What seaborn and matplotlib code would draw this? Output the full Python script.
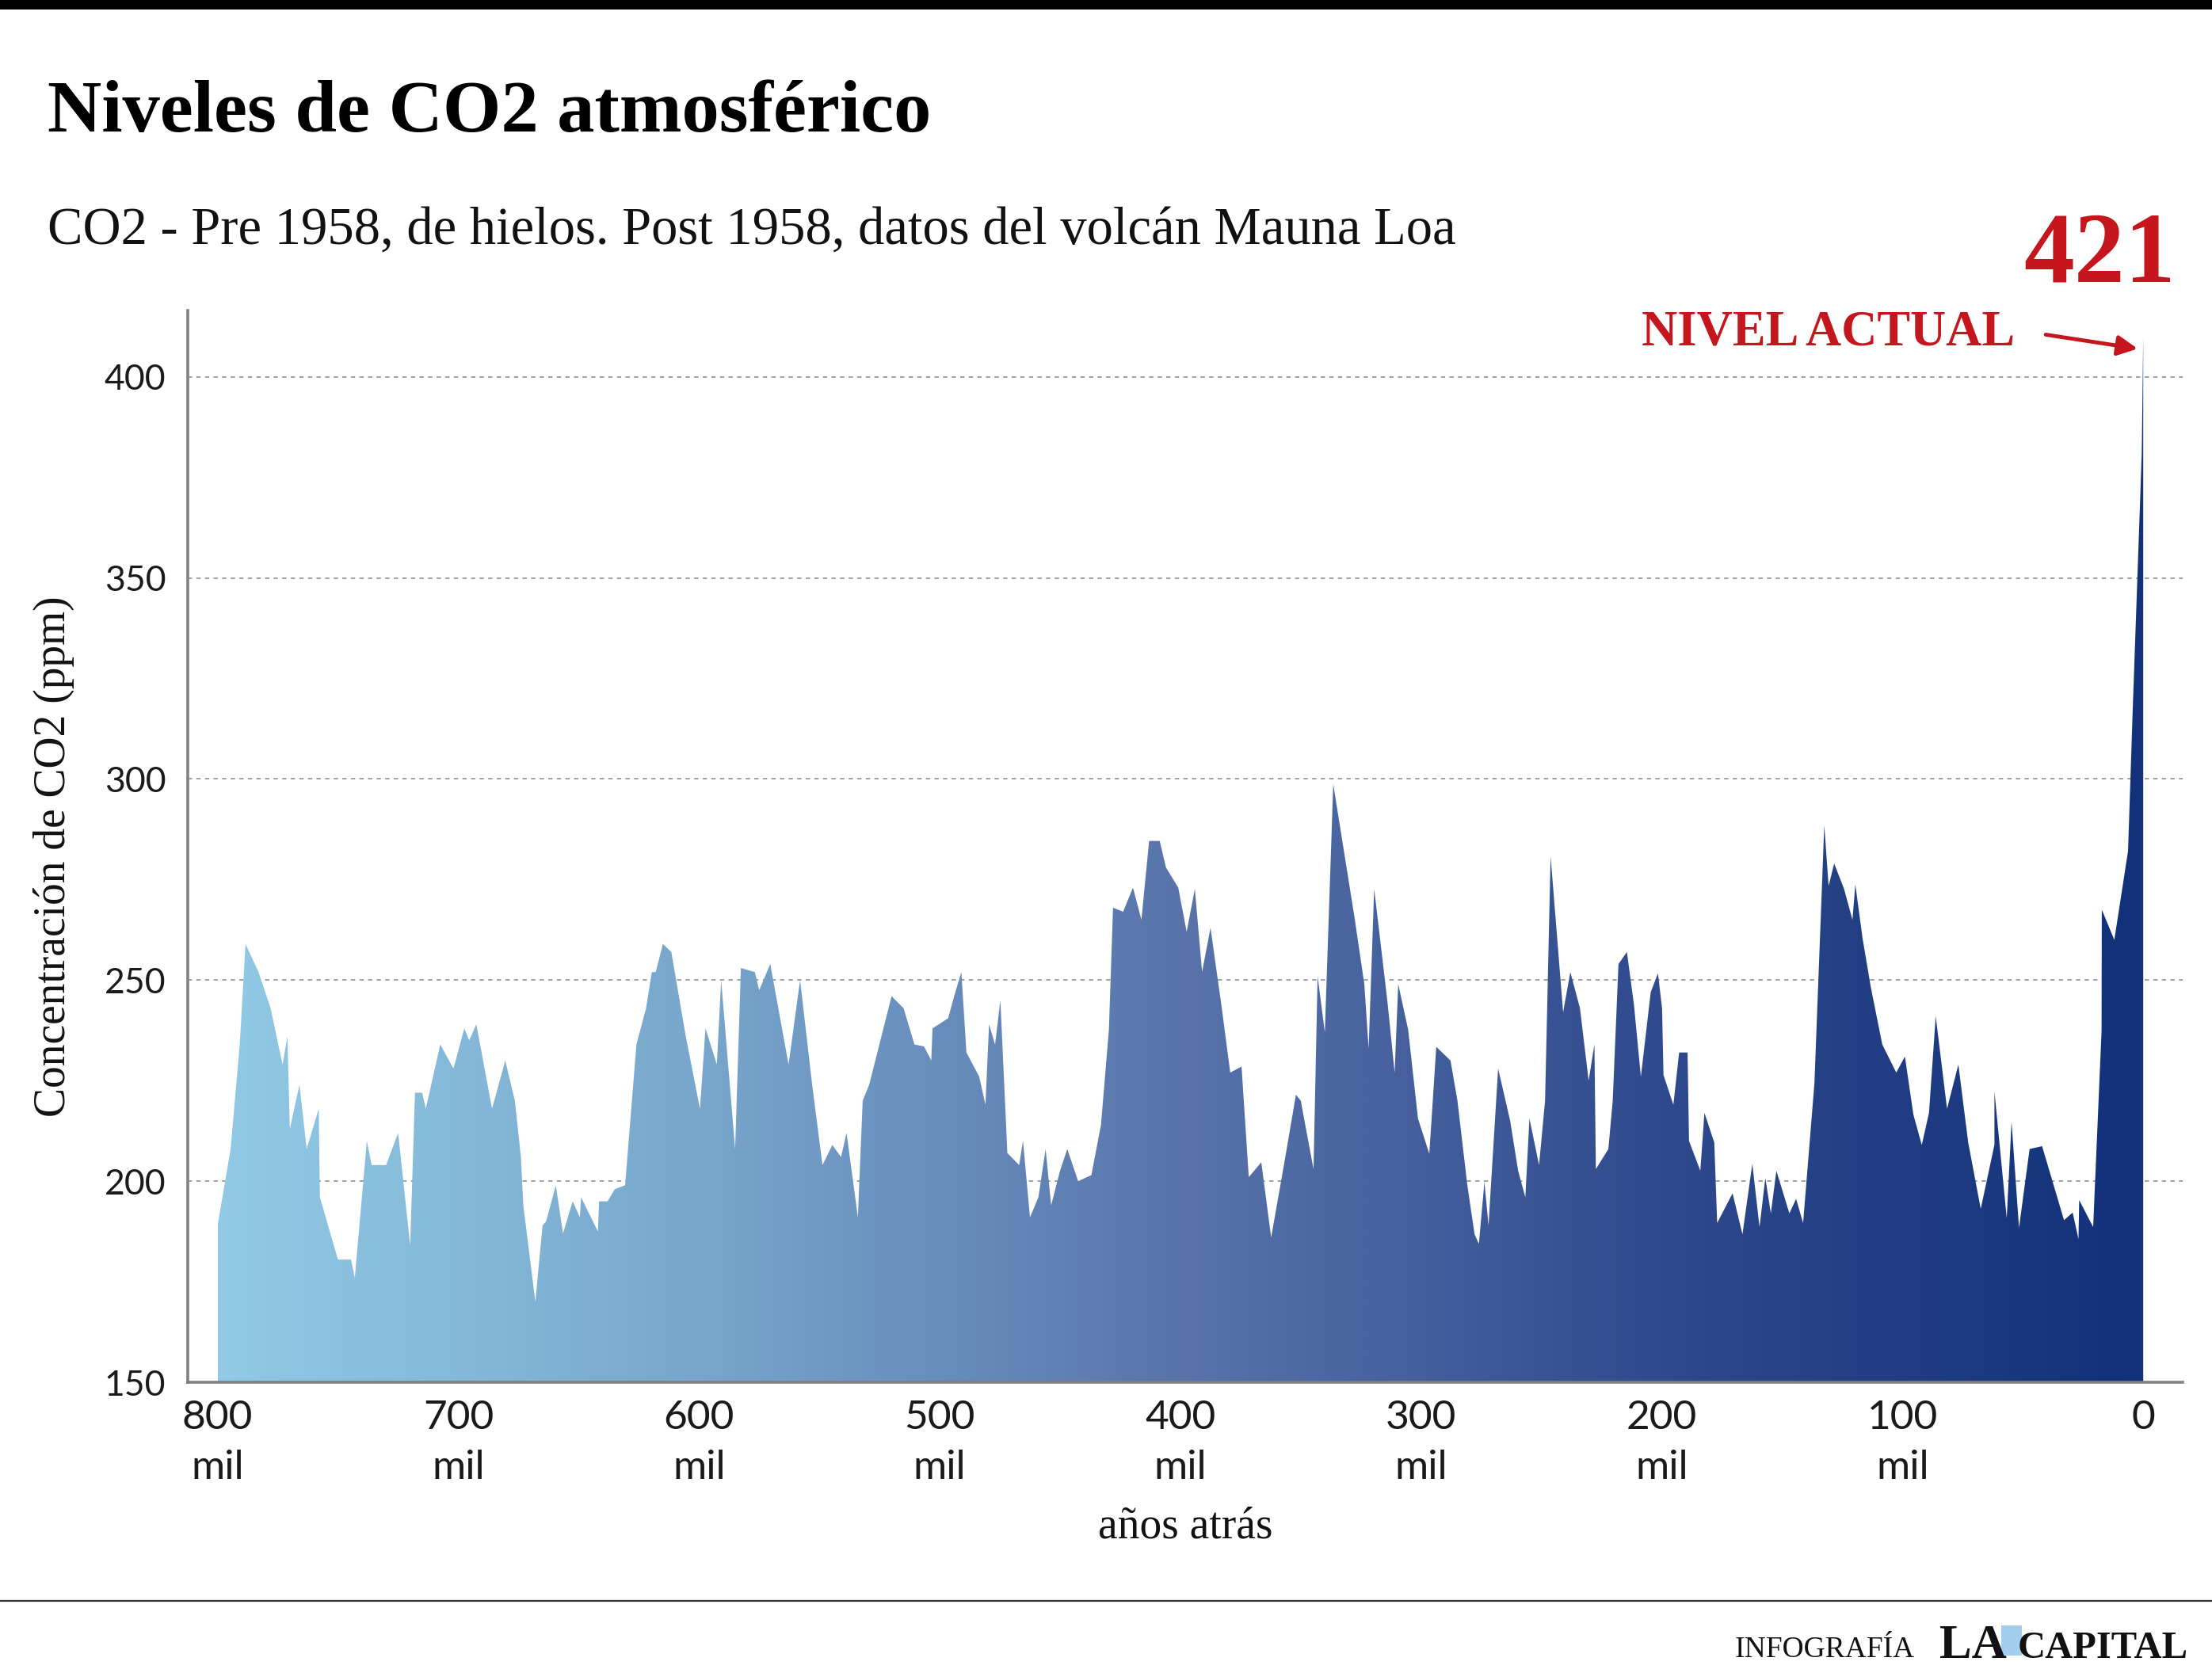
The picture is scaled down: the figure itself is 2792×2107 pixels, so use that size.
import numpy as np
import pandas as pd
import matplotlib
matplotlib.use("Agg")
import matplotlib.pyplot as plt
import seaborn as sns
from matplotlib.colors import LinearSegmentedColormap
from matplotlib.patches import Rectangle
from matplotlib.lines import Line2D

# ---------------- data ----------------
years_kyr = [
    800, 794.6, 790.8, 788.4, 783, 778, 773, 771, 770, 766, 763, 758, 757.5, 750, 744.6, 743,
    738, 736, 730, 725, 720, 718, 715, 713.5, 707.5, 702, 697.5, 695.5, 692.5, 686, 680.5,
    676.5, 674, 673, 668, 665, 663.5, 659.5, 656.5, 652.5, 649.5, 649, 642, 641.5, 638, 635,
    630.7, 626, 622, 619.6, 618, 615, 611.5, 605.5, 599.6, 597.3, 592.6, 590.8, 585, 582.6,
    576.8, 575, 570.4, 562.8, 558, 553, 548.7, 544.6, 541, 538.7, 534, 532, 529.3, 520, 515,
    510.5, 506.5, 503.5, 503, 496.5, 494, 491, 488.9, 483.6, 481, 479.5, 477, 474.8, 471.9,
    467, 465.4, 462.5, 459, 456, 453.7, 450, 447, 442.5, 437, 433, 429.7, 428, 423.8, 419.7,
    416.2, 413, 408.6, 406, 400.9, 397.4, 394, 391, 387.5, 382.8, 379.3, 374.6, 371.6, 366.4,
    362.3, 357, 352, 350, 344.7, 343, 340, 336.5, 327.7, 323.6, 321.8, 319.5, 314, 311, 309.5,
    305.4, 301.3, 296.6, 293.7, 287.8, 284.9, 280.8, 277.8, 276, 273.7, 272, 268, 263, 259.7,
    256.7, 255, 251, 248.5, 246.2, 241, 238, 234, 230.4, 228, 227.4, 222.2, 220.4, 218, 214.5,
    211.6, 208.7, 204.6, 201.6, 199.9, 199.3, 195.2, 192.8, 189.3, 188.7, 184, 182.3, 178.2,
    177, 170.6, 166.5, 162.4, 159.4, 157, 154.7, 152.4, 147, 144.2, 141.3, 136.6, 132.5, 130.7,
    128.4, 124.3, 120.8, 119.6, 116.6, 113.1, 108.4, 102.6, 99, 95.5, 92, 89, 86.2, 81.5, 76.8,
    72.7, 67.5, 61.8, 61.8, 56.7, 54.7, 51.6, 47.2, 42, 32.9, 29.3, 26.9, 26.6, 20.8, 17.3,
    17.2, 12, 6.3, 4.4, 0.6, 0,
]
co2_ppm = [
    189, 208, 234, 259, 252, 243, 229, 236, 213, 224, 208, 218, 196, 180.5, 180.5, 176,
    210, 204, 204, 212, 184, 222, 222, 218, 234, 228, 238, 235, 239, 218, 230,
    220, 206, 194, 170, 189, 190, 199, 187, 195, 191, 196, 187.5, 195, 195, 198,
    199, 234, 243, 252, 252, 259, 257, 236, 218, 238, 229, 250, 208, 253,
    252, 247.5, 254, 229, 250, 224, 204, 209, 206, 212, 191, 220, 224, 246, 243,
    234, 233.5, 230, 238, 240.5, 246, 252, 232, 226, 219, 239, 234, 245, 207,
    204, 210, 191, 196, 208, 194, 202.6, 208, 200, 201.5, 214, 237.7, 268, 267, 273,
    265, 284.6, 284.6, 278, 273, 262, 272.7, 252, 263, 243, 227, 228.5, 201, 204.7,
    186, 204, 221.5, 220, 203, 251, 237, 298.7, 265.7, 249, 233, 272.7, 244.7, 227, 249,
    237.7, 215.6, 206.8, 233.4, 230, 220, 199, 186.8, 184.4, 199.8, 189, 228, 215, 202.6,
    196, 215.6, 204, 220, 280.8, 242, 252, 243, 225, 234, 203, 208, 220, 254, 257,
    244, 226, 247, 251.7, 243, 226.4, 219, 232, 232, 210, 202.6, 217, 209.6,
    189.6, 197, 186.8, 204.3, 188.6, 200.8, 192, 202.6, 192, 195.6, 189.6, 224.3, 288.5, 273.4,
    279, 272.7, 265, 273.8, 260.4, 248, 234, 227, 231, 216.6, 209, 217, 241, 218, 229,
    209.6, 193.1, 209.1, 222.3, 190.8, 214.8, 188.4, 208, 208.7, 190.3, 192.2, 185.6, 195.3, 188.6, 237.4,
    267.5, 260, 282.1, 316.5, 381, 410,
]
x_ticks = [800, 700, 600, 500, 400, 300, 200, 100, 0]
x_tick_labels = ["800\nmil", "700\nmil", "600\nmil", "500\nmil", "400\nmil",
                 "300\nmil", "200\nmil", "100\nmil", "0\n"]
y_ticks = [150, 200, 250, 300, 350, 400]
grid_levels = [200, 250, 300, 350, 400]

title = "Niveles de CO2 atmosférico"
subtitle = "CO2 - Pre 1958, de hielos. Post 1958, datos del volcán Mauna Loa"
current_value = "421"
current_label = "NIVEL ACTUAL"
y_label = "Concentración de CO2 (ppm)"
x_label = "años atrás"

# ---------------- styling ----------------
sns.set_theme(style="white")
plt.rcParams['font.family'] = ['Liberation Serif', 'DejaVu Serif']

W, H = 2792, 2107
fig = plt.figure(figsize=(W / 100, H / 100), dpi=100)
fig.patch.set_facecolor("white")

def fx(px):
    return px / W

def fy(py):
    return 1 - py / H

ax = fig.add_axes([fx(237), fy(1745), fx(2755) - fx(237), fy(392) - fy(1745)])
ax.set_facecolor("white")

df = pd.DataFrame({"years": years_kyr, "co2": co2_ppm})
sns.lineplot(data=df, x="years", y="co2", ax=ax, linewidth=0, sort=False,
             estimator=None, color="#12317a")

# gradient area
poly = ax.fill_between(df["years"], 150, df["co2"], facecolor="none",
                       edgecolor="none", linewidth=0)
cmap = LinearSegmentedColormap.from_list(
    "co2grad",
    [(0.0, "#91cae5"), (0.25, "#78a6cc"), (0.5, "#5874ab"),
     (0.75, "#2f4a8d"), (1.0, "#12317a")])
grad = np.linspace(0, 1, 600).reshape(1, -1)
im = ax.imshow(grad, cmap=cmap, aspect="auto", extent=[800, 0, 150, 420],
               zorder=2, interpolation="bilinear")
im.set_clip_path(poly.get_paths()[0], transform=ax.transData)

ax.set_xlim(812.4, -16.4)
ax.set_ylim(150, 416.5)

for lvl in grid_levels:
    ax.axhline(lvl, color="#9a9a9a", lw=1.3, ls=(0, (3, 3)), zorder=1)

for side in ["top", "right"]:
    ax.spines[side].set_visible(False)
for side in ["left", "bottom"]:
    ax.spines[side].set_color("#808080")
    ax.spines[side].set_linewidth(2.6)
    ax.spines[side].set_zorder(3)

tick_font = ["Lato", "DejaVu Sans"]
ax.set_xticks(x_ticks)
ax.set_xticklabels(x_tick_labels, fontsize=37, color="#1a1a1a",
                   family=tick_font, fontweight="normal", linespacing=1.45)
ax.set_yticks(y_ticks)
ax.set_yticklabels([str(v) for v in y_ticks], fontsize=32, color="#1a1a1a",
                   family=tick_font, fontweight="normal")
ax.tick_params(axis="x", length=0, pad=16)
ax.tick_params(axis="y", length=0, pad=20)
ax.set_xlabel("")
ax.set_ylabel("")

# axis titles
fig.text(fx(68), fy(1081), y_label, rotation=90, ha="center", va="center",
         fontsize=40, color="#111111")
fig.text(fx(1496), fy(1928), x_label, ha="center", va="center",
         fontsize=40, color="#111111")

# titles
fig.text(fx(60), fy(166), title, ha="left", va="baseline", fontsize=68,
         fontweight="bold", color="#000000")
fig.text(fx(60), fy(308), subtitle, ha="left", va="baseline", fontsize=48,
         color="#111111")

# current level annotation
red = "#c4161c"
fig.text(fx(2746), fy(356), current_value, ha="right", va="baseline", fontsize=92,
         fontweight="bold", color=red)
fig.text(fx(2543), fy(436), current_label, ha="right", va="baseline", fontsize=45,
         fontweight="bold", color=red)
ax.annotate("", xy=(2.3, 407), xytext=(40.5, 410.5), xycoords="data",
            arrowprops=dict(arrowstyle="-|>", color=red, lw=3.5, mutation_scale=38,
                            shrinkA=0, shrinkB=0),
            annotation_clip=False, zorder=5)

# top bar and bottom rule
fig.patches.append(Rectangle((0, fy(12)), 1, fy(0) - fy(12), transform=fig.transFigure,
                             facecolor="black", edgecolor="none", zorder=10))
fig.add_artist(Line2D([0, 1], [fy(2021), fy(2021)], transform=fig.transFigure,
                      color="#333333", lw=1.6))

# footer
fig.text(fx(2190), fy(2092), "INFOGRAFÍA", ha="left", va="baseline", fontsize=27,
         color="#111111")
fig.text(fx(2448), fy(2093), "LA", ha="left", va="baseline", fontsize=44,
         fontweight="bold", color="#111111")
fig.patches.append(Rectangle((fx(2526), fy(2090)), fx(26), fy(2052) - fy(2090),
                             transform=fig.transFigure, facecolor="#8ec4e8",
                             edgecolor="none", alpha=0.8))
fig.text(fx(2762), fy(2093), "CAPITAL", ha="right", va="baseline", fontsize=35,
         fontweight="bold", color="#111111")

fig.savefig("out.png", dpi=100, facecolor="white")
